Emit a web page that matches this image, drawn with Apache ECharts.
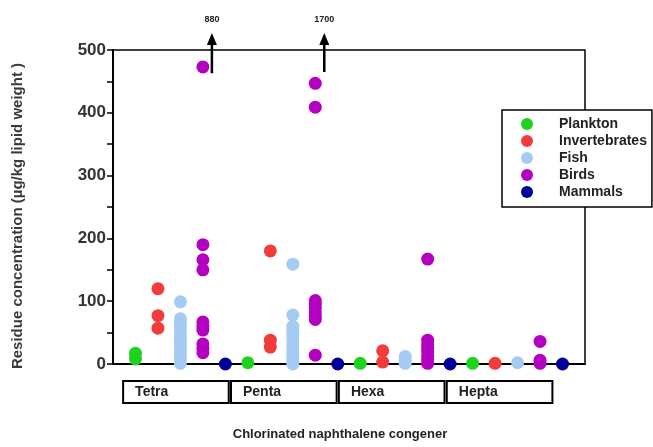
<!DOCTYPE html>
<html>
<head>
<meta charset="utf-8">
<script src="https://cdn.jsdelivr.net/npm/echarts@6/dist/echarts.min.js"></script>
<style>
  html, body { margin: 0; padding: 0; background: #fff; }
  #chart { width: 653px; height: 447px; }
</style>
</head>
<body>
<div id="chart"></div>
<script>
// congener groups and species, values in ug/kg lipid weight
var groups = ['Tetra', 'Penta', 'Hexa', 'Hepta'];
var species = ['Plankton', 'Invertebrates', 'Fish', 'Birds', 'Mammals'];
var colors = ['#1ed21e', '#f23c3c', '#a6cbf3', '#b400c0', '#000099'];

var plankton = [[17, 8], [2], [1], [1]];
var invertebrates = [[120, 77, 57], [180, 38, 27], [21, 3], [1]];
var fish = [
  [99, 72, 65, 58, 50, 43, 36, 29, 22, 15, 8, 1],
  [159, 78, 60, 53, 46, 39, 32, 25, 18, 11, 4, 0],
  [12, 6, 1],
  [2]
];
var birds = [
  [473, 190, 166, 150, 67, 60, 54, 32, 25, 18],
  [447, 409, 101, 95, 89, 83, 77, 71, 14],
  [167, 38, 31, 25, 19, 13, 7, 1],
  [36, 6, 1]
];
var mammals = [[0], [0], [0], [0]];
var offscale = ['880', '1700'];
var yTicks = [0, 100, 200, 300, 400, 500];

var allSeries = [plankton, invertebrates, fish, birds, mammals];

var myChart = echarts.init(document.getElementById('chart'));

var series = species.map(function (name, s) {
  var data = [];
  allSeries[s].forEach(function (vals, g) {
    vals.forEach(function (v) { data.push([g * 5 + s + 1, v]); });
  });
  return {
    name: name,
    type: 'scatter',
    data: data,
    symbolSize: 13,
    clip: false,
    itemStyle: { color: colors[s], opacity: 1 },
    z: 3
  };
});

var option = {
  animation: false,
  backgroundColor: '#fff',
  textStyle: { fontFamily: 'Liberation Sans, Arial, sans-serif' },
  grid: {
    left: 113, right: 68, top: 50, bottom: 83,
    show: true, borderColor: '#000', borderWidth: 1.5, backgroundColor: 'transparent'
  },
  legend: {
    orient: 'vertical',
    left: 502, top: 110,
    padding: [7, 5, 8, 19],
    backgroundColor: '#fff',
    borderColor: '#000',
    borderWidth: 1.5,
    borderRadius: 0,
    icon: 'circle',
    itemWidth: 30, itemHeight: 12,
    itemGap: 3,
    textStyle: { fontSize: 14, fontWeight: 'bold', color: '#222', lineHeight: 14, padding: [0, 0, 0, 12] },
    data: species
  },
  xAxis: {
    type: 'value', min: 0, max: 21,
    axisLine: { show: true, onZero: false, lineStyle: { color: '#000', width: 2 } },
    axisTick: { show: false }, axisLabel: { show: false }, splitLine: { show: false },
    name: 'Chlorinated naphthalene congener',
    nameLocation: 'middle', nameGap: 64,
    nameTextStyle: { fontSize: 13, fontWeight: 'bold', color: '#222', padding: [0, 18, 0, 0] }
  },
  yAxis: {
    type: 'value', min: 0, max: 500, interval: 100,
    axisLine: { show: true, lineStyle: { color: '#000', width: 2 } },
    axisTick: { show: true, inside: false, length: 6, lineStyle: { color: '#000', width: 1.5 } },
    minorTick: { show: true, splitNumber: 2, length: 6, lineStyle: { color: '#000', width: 1.5 } },
    axisLabel: {
      fontSize: 17, fontWeight: 'bold', color: '#333', margin: 7,
      formatter: function (v) { return yTicks.indexOf(v) >= 0 ? String(v) : ''; }
    },
    splitLine: { show: false },
    name: 'Residue concentration (\u00b5g/kg lipid weight )',
    nameLocation: 'middle', nameGap: 88, nameRotate: 90,
    nameTextStyle: { fontSize: 15, fontWeight: 'bold', color: '#3a3a3a', padding: [0, 18, 0, 0] }
  },
  series: series
};
myChart.setOption(option);

// group boxes under the axis and arrows for off-scale values
var graphics = [];
var y0 = myChart.convertToPixel({ gridIndex: 0 }, [0, 0])[1];
groups.forEach(function (g, k) {
  var xa = myChart.convertToPixel({ gridIndex: 0 }, [0.45 + 4.8 * k, 0])[0];
  var xb = myChart.convertToPixel({ gridIndex: 0 }, [5.15 + 4.8 * k, 0])[0];
  graphics.push({
    type: 'rect',
    shape: { x: xa, y: y0 + 17, width: xb - xa, height: 22 },
    style: { fill: '#fff', stroke: '#000', lineWidth: 2 }
  });
  graphics.push({
    type: 'text',
    x: xa + 12, y: y0 + 28,
    style: { text: g, fontSize: 14, fontWeight: 'bold', fill: '#222', verticalAlign: 'middle',
      fontFamily: 'Liberation Sans, Arial, sans-serif' }
  });
});
var arrowX = [4.4, 9.4];
var arrowBase = [463, 465];
offscale.forEach(function (lbl, i) {
  var p0 = myChart.convertToPixel({ gridIndex: 0 }, [arrowX[i], arrowBase[i]]);
  var p1 = myChart.convertToPixel({ gridIndex: 0 }, [arrowX[i], 527]);
  graphics.push({
    type: 'line',
    shape: { x1: p0[0], y1: p0[1], x2: p1[0], y2: p1[1] + 8 },
    style: { stroke: '#000', lineWidth: 2.5 }, z: 5
  });
  graphics.push({
    type: 'polygon',
    shape: { points: [[p1[0], p1[1]], [p1[0] - 5, p1[1] + 12], [p1[0] + 5, p1[1] + 12]] },
    style: { fill: '#000' }, z: 5
  });
  graphics.push({
    type: 'text',
    x: p1[0], y: p1[1] - 14,
    style: { text: lbl, fontSize: 9, fontWeight: 'bold', fill: '#222', align: 'center', verticalAlign: 'middle',
      fontFamily: 'Liberation Sans, Arial, sans-serif' }, z: 5
  });
});
myChart.setOption({ graphic: graphics });
</script>
</body>
</html>
